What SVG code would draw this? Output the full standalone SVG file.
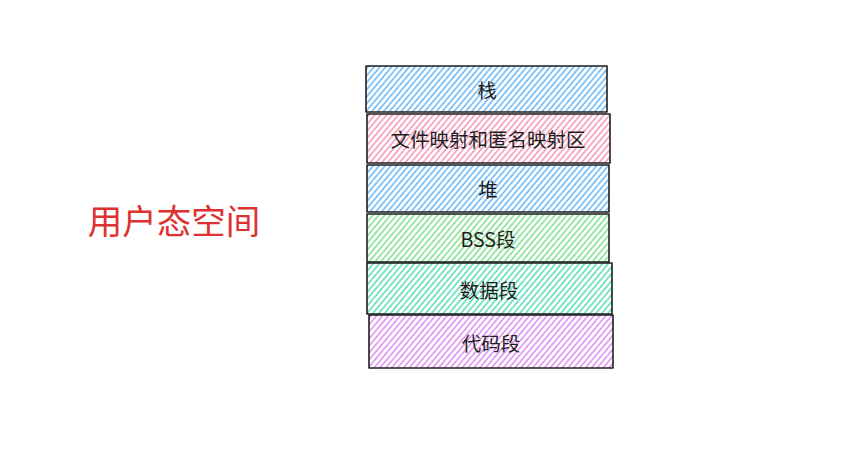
<svg xmlns="http://www.w3.org/2000/svg" width="849" height="470" viewBox="0 0 849 470">
<style>
.box{stroke:#1e1e1e;stroke-width:1.6;stroke-linejoin:round;}
.lbl{font-family:"Noto Sans CJK SC","Liberation Sans",sans-serif;font-size:19.5px;fill:#1e1e1e;text-anchor:middle;dominant-baseline:central;}
.title{font-family:"Noto Sans CJK SC","Liberation Sans",sans-serif;font-size:34.5px;fill:#e03131;text-anchor:middle;dominant-baseline:central;}
.hl{stroke-width:1.3;}
</style>
<defs>
<pattern id="hBlue" patternUnits="userSpaceOnUse" width="4.5" height="8" patternTransform="rotate(40)"><line class="hl" x1="1" y1="-1" x2="1" y2="9" stroke="#4dabf7"/></pattern>
<pattern id="hPink" patternUnits="userSpaceOnUse" width="4.5" height="8" patternTransform="rotate(40)"><line class="hl" x1="1" y1="-1" x2="1" y2="9" stroke="#f783ac"/></pattern>
<pattern id="hGreen" patternUnits="userSpaceOnUse" width="4.5" height="8" patternTransform="rotate(40)"><line class="hl" x1="1" y1="-1" x2="1" y2="9" stroke="#69db7c"/></pattern>
<pattern id="hTeal" patternUnits="userSpaceOnUse" width="4.5" height="8" patternTransform="rotate(40)"><line class="hl" x1="1" y1="-1" x2="1" y2="9" stroke="#38d9a9"/></pattern>
<pattern id="hPurple" patternUnits="userSpaceOnUse" width="4.5" height="8" patternTransform="rotate(40)"><line class="hl" x1="1" y1="-1" x2="1" y2="9" stroke="#da77f2"/></pattern>
</defs>
<rect width="849" height="470" fill="#ffffff"/>
<g id="title"><text class="title" x="174" y="219">用户态空间</text></g>
<g id="stack">
<path class="box" fill="url(#hBlue)" d="M366 66 L607 66 L607 112 L366 112 Z"/>
<text class="lbl" x="487" y="89">栈</text>
</g>
<g id="mmap">
<path class="box" fill="url(#hPink)" d="M367 114 L610 114 L610 163 L367 163 Z"/>
<text class="lbl" x="488" y="138">文件映射和匿名映射区</text>
</g>
<g id="heap">
<path class="box" fill="url(#hBlue)" d="M367 165 L609 165 L609 212 L367 212 Z"/>
<text class="lbl" x="488" y="188">堆</text>
</g>
<g id="bss">
<path class="box" fill="url(#hGreen)" d="M367 214 L609 214 L609 262 L367 262 Z"/>
<text class="lbl" x="488" y="238">BSS段</text>
</g>
<g id="data">
<path class="box" fill="url(#hTeal)" d="M367 263 L612 263 L612 314 L367 314 Z"/>
<text class="lbl" x="489" y="289">数据段</text>
</g>
<g id="text">
<path class="box" fill="url(#hPurple)" d="M369 315 L613 315 L613 368 L369 368 Z"/>
<text class="lbl" x="491" y="342">代码段</text>
</g>
<g id="connectors"></g>
</svg>
